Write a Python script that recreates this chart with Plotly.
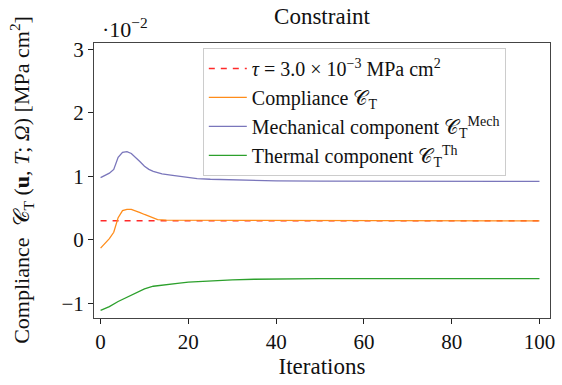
import plotly.graph_objects as go

# values in units of 10^-2 MPa cm^2
mech_it = [0, 1, 2, 3, 4, 5, 6, 7, 8, 9, 10, 11, 12, 14, 16, 18, 20, 22, 25, 30, 35, 40, 50, 60, 70, 80, 90, 100]
mech_val = [0.98, 1.02, 1.05, 1.11, 1.30, 1.38, 1.39, 1.36, 1.30, 1.23, 1.16, 1.11, 1.08, 1.04, 1.02, 1.00, 0.98,
            0.965, 0.955, 0.945, 0.935, 0.93, 0.925, 0.925, 0.922, 0.92, 0.92, 0.92]

comp_it = [0, 1, 2, 3, 4, 5, 6, 7, 8, 9, 10, 11, 12, 13, 15, 20, 25, 30, 35, 40, 50, 60, 70, 80, 90, 100]
comp_val = [-0.13, -0.06, 0.02, 0.12, 0.35, 0.46, 0.48, 0.48, 0.46, 0.43, 0.40, 0.37, 0.34, 0.32, 0.31, 0.31,
            0.305, 0.305, 0.30, 0.30, 0.30, 0.30, 0.30, 0.30, 0.30, 0.30]

therm_it = [0, 2, 4, 6, 8, 10, 12, 14, 16, 18, 20, 25, 30, 35, 40, 50, 60, 70, 80, 87, 90, 100]
therm_val = [-1.11, -1.05, -0.97, -0.90, -0.83, -0.77, -0.73, -0.71, -0.70, -0.68, -0.665, -0.645, -0.63, -0.62,
             -0.615, -0.61, -0.61, -0.61, -0.61, -0.605, -0.61, -0.61]

tau_it = [0, 100]
tau_val = [0.3, 0.3]

x_ticks = [0, 20, 40, 60, 80, 100]
y_ticks = [-1, 0, 1, 2, 3]

FONT = "Liberation Serif"
C = "𝒞"

fig = go.Figure()
fig.add_trace(go.Scatter(x=tau_it, y=tau_val, mode="lines",
                         line=dict(color="#ff2a2a", width=1.5, dash="6px,6px"),
                         name="<i>τ</i> = 3.0 × 10<sup>−3</sup> MPa cm<sup>2</sup>"))
fig.add_trace(go.Scatter(x=comp_it, y=comp_val, mode="lines", line=dict(color="#ff8c1a", width=1.3),
                         name=f"Compliance {C}<sub>T</sub>"))
fig.add_trace(go.Scatter(x=mech_it, y=mech_val, mode="lines", line=dict(color="#7a76bb", width=1.3),
                         name=f"Mechanical component {C}<sub>T</sub><sup>Mech</sup>"))
fig.add_trace(go.Scatter(x=therm_it, y=therm_val, mode="lines", line=dict(color="#2ca02c", width=1.3),
                         name=f"Thermal component {C}<sub>T</sub><sup>Th</sup>"))

axcommon = dict(showgrid=False, zeroline=False, showline=True, linecolor="#444", linewidth=1,
                mirror=True, ticks="outside", ticklen=5, tickcolor="#222",
                tickfont=dict(family=FONT, size=21, color="#111"))
fig.update_xaxes(range=[-1.5, 102.4], tickvals=x_ticks, ticktext=[str(v) for v in x_ticks],
                 title=dict(text="Iterations", font=dict(family=FONT, size=23, color="#111"), standoff=4),
                 **axcommon)
fig.update_yaxes(range=[-1.23, 3.1], tickvals=y_ticks, ticktext=[str(v).replace("-", "−") for v in y_ticks],
                 **axcommon)

fig.update_layout(
    width=562, height=385,
    margin=dict(l=94, r=7, t=43, b=67),
    plot_bgcolor="white", paper_bgcolor="white",
    font=dict(family=FONT, size=21, color="#111"),
    title=dict(text="Constraint", x=0.5, xref="paper", xanchor="center", y=1 - 16 / 385, yanchor="middle",
               font=dict(family=FONT, size=23, color="#111")),
    legend=dict(x=0.2386, y=0.982, xanchor="left", yanchor="top", bgcolor="white",
                bordercolor="#cccccc", borderwidth=1, font=dict(family=FONT, size=20, color="#111"),
                tracegroupgap=0, itemwidth=38),
    showlegend=True,
    annotations=[
        dict(text="·10<sup>−2</sup>", xref="paper", yref="paper", x=(100 - 94) / 461, y=(318 - 28) / 275,
             xanchor="left", yanchor="middle", showarrow=False, font=dict(family=FONT, size=22, color="#111")),
        dict(text=f"Compliance  {C}<sub>T</sub> (<b>u</b>, <i>T</i>; <i>Ω</i>) [MPa cm<sup>2</sup>]",
             xref="paper", yref="paper", x=(20 - 94) / 461, y=(318 - 180) / 275, textangle=-90,
             xanchor="center", yanchor="middle", showarrow=False,
             font=dict(family=FONT, size=22, color="#111")),
    ],
)

fig.write_html("out.html")
